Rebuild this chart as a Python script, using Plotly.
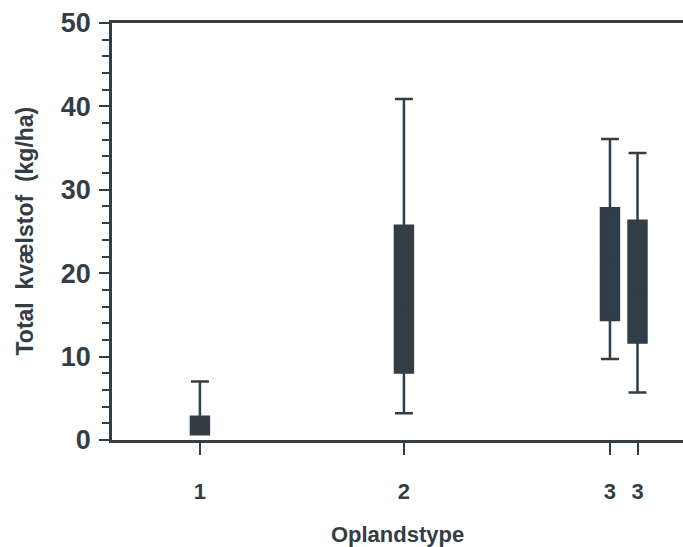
import plotly.graph_objects as go

# Oplandstype categories and box statistics (kg N/ha)
categories = ["1", "2", "3", "3"]
q1 = [0.7, 8.1, 14.4, 11.7]
median = [1.5, 16.0, 21.0, 18.0]
q3 = [2.8, 25.7, 27.8, 26.3]
lower_whisker = [0.7, 3.2, 9.7, 5.7]
upper_whisker = [7.0, 40.9, 36.1, 34.4]

y_ticks = [0, 10, 20, 30, 40, 50]

# horizontal placement of each box on the x axis
x_pos = [1.0, 2.0, 3.01, 3.145]

ink = "#333d45"
font_family = "Liberation Sans, Arial, sans-serif"

fig = go.Figure()
for i, cat in enumerate(categories):
    fig.add_trace(go.Box(
        x=[x_pos[i]],
        q1=[q1[i]], median=[median[i]], q3=[q3[i]],
        lowerfence=[lower_whisker[i]], upperfence=[upper_whisker[i]],
        width=0.088,
        whiskerwidth=1,
        fillcolor=ink,
        line=dict(color=ink, width=2.5),
        boxpoints=False,
        name=cat,
        showlegend=False,
        hoverinfo="skip",
    ))

fig.update_layout(
    width=683, height=547,
    margin=dict(l=112, r=0, t=23, b=107),
    paper_bgcolor="white", plot_bgcolor="white",
    font=dict(family=font_family, color=ink),
)

fig.update_xaxes(
    range=[0.569, 3.368],
    tickmode="array", tickvals=x_pos, ticktext=categories,
    ticks="outside", ticklen=12, tickwidth=2, tickcolor=ink,
    tickfont=dict(size=22, weight="bold", color=ink),
    ticklabelstandoff=18,
    showline=True, linecolor=ink, linewidth=2.5, mirror=True,
    showgrid=False, zeroline=False,
    title=dict(text="Oplandstype", standoff=24,
               font=dict(size=22, weight="bold", color=ink)),
)

fig.update_yaxes(
    range=[0, 50],
    tickmode="array", tickvals=y_ticks,
    ticks="outside", ticklen=10, tickwidth=2, tickcolor=ink,
    minor=dict(dtick=2, ticks="outside", ticklen=7, tickwidth=2, tickcolor=ink),
    tickfont=dict(size=27, weight="bold", color=ink),
    ticklabelstandoff=3,
    showline=True, linecolor=ink, linewidth=2.5,
    showgrid=False, zeroline=False,
)

# y-axis title placed as a rotated annotation left of the tick labels
fig.add_annotation(
    text="Total  kvælstof  (kg/ha)",
    xref="paper", yref="paper", x=0, y=0.5,
    xanchor="center", yanchor="middle", xshift=-88,
    textangle=-90, showarrow=False,
    font=dict(size=23, weight="bold", color=ink),
)

fig.write_html("out.html")
